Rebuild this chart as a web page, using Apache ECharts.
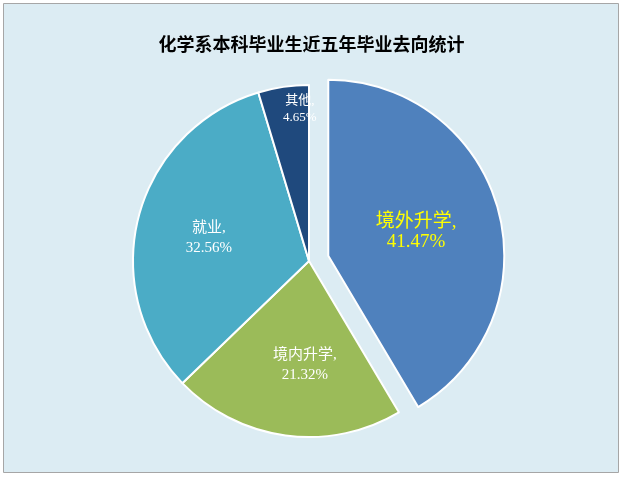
<!DOCTYPE html>
<html><head><meta charset="utf-8">
<script src="https://cdn.jsdelivr.net/npm/echarts@6/dist/echarts.min.js"></script>
<style>html,body{margin:0;padding:0;background:#fff}#main{width:623px;height:477px}</style>
</head><body><div id="main"></div>
<script>
// 毕业去向及占比
var categories = ['境外升学', '境内升学', '就业', '其他'];
var shares = [41.47, 21.32, 32.56, 4.65];
var colors = ['#4f81bd', '#9bbb59', '#4bacc6', '#1f497d'];

var chart = echarts.init(document.getElementById('main'));
var data = categories.map(function (c, i) {
  var d = { name: c, value: shares[i], itemStyle: { color: colors[i] } };
  if (i === 0) {
    d.selected = true;
    d.label = { color: '#ffff00', fontSize: 19 };
  }
  if (i === 1) d.label = { offset: [8, 14] };
  if (i === 2) d.label = { offset: [-12, 0] };
  if (i === 3) d.label = { offset: [4, -62], fontSize: 13, lineHeight: 17 };
  return d;
});
chart.setOption({
  backgroundColor: '#fff',
  graphic: [{
    type: 'rect', left: 3, top: 3, shape: { width: 615, height: 469 },
    style: { fill: '#dcecf3', stroke: '#a6a6a6', lineWidth: 1 }, z: -10
  }],
  title: {
    text: '化学系本科毕业生近五年毕业去向统计', left: 'center', top: 30,
    textStyle: { fontSize: 18, fontWeight: 'bold', color: '#000', fontFamily: 'Noto Sans CJK SC' }
  },
  series: [{
    type: 'pie', center: [309, 261], radius: 176, startAngle: 90, clockwise: true,
    selectedMode: 'single', selectedOffset: 20,
    itemStyle: { borderColor: '#fff', borderWidth: 2 },
    label: {
      position: 'inner', color: '#fff', fontSize: 15, lineHeight: 20,
      fontFamily: 'Liberation Serif, Noto Sans CJK SC',
      formatter: function (p) { return p.name + ',\n' + p.value.toFixed(2) + '%'; }
    },
    emphasis: { disabled: true },
    data: data
  }]
});
</script></body></html>
